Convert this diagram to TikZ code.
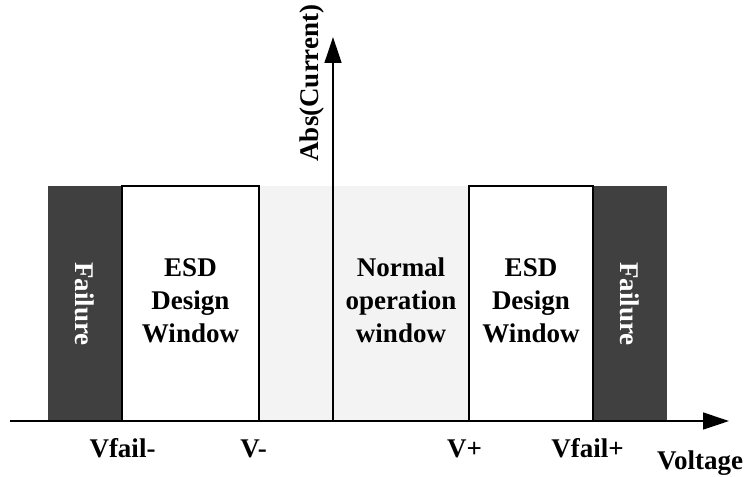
\documentclass[tikz,border=0pt]{standalone}
\usepackage{fontspec}
\setmainfont{Liberation Serif}
\usetikzlibrary{arrows.meta}
\definecolor{darkfail}{HTML}{404040}
\definecolor{lightop}{HTML}{F3F3F3}
\begin{document}
\begin{tikzpicture}[x=1pt,y=-1pt,
  lbl/.style={font=\fontsize{27}{33}\selectfont\bfseries, inner sep=0pt, align=center},
  failbox/.style={fill=darkfail, draw=none, inner sep=0pt, outer sep=0pt},
  esdbox/.style={fill=white, draw=black, line width=1.2pt, inner sep=0pt, outer sep=0pt},
  opbox/.style={fill=lightop, draw=none, inner sep=0pt, outer sep=0pt},
  axis/.style={line width=1.3pt, -{Triangle[length=26pt,width=17pt]}}]
\useasboundingbox (0,0) rectangle (746,476);
% regions
\node[opbox, minimum width=210pt, minimum height=235pt] (op) at (364,303.5) {};
\node[failbox, minimum width=74pt, minimum height=235pt] (failL) at (85,303.5) {};
\node[failbox, minimum width=74pt, minimum height=235pt] (failR) at (630,303.5) {};
\node[esdbox, minimum width=137pt, minimum height=235pt] (esdL) at (190.5,303.5) {};
\node[esdbox, minimum width=124pt, minimum height=235pt] (esdR) at (531,303.5) {};
% axes
\coordinate (xs) at (10,421);
\coordinate (xe) at (729,421);
\coordinate (ys) at (333,421);
\coordinate (ye) at (333,37);
\draw[axis] (xs) -- (xe);
\draw[axis] (ys) -- (ye);
% texts
\node[lbl, text=white, rotate=-90] (tfailL) at (85,304) {Failure};
\node[lbl, text=white, rotate=-90] (tfailR) at (630,304) {Failure};
\node[lbl] (tesdL) at (190.5,300.5) {ESD\\Design\\Window};
\node[lbl] (tesdR) at (531,300.5) {ESD\\Design\\Window};
\node[lbl] (top) at (401,300.5) {Normal\\operation\\window};
\node[lbl, rotate=90, anchor=base] (tcur) at (318,83) {Abs(Current)};
\node[lbl, anchor=base] (vfm) at (122.5,457) {Vfail-};
\node[lbl, anchor=base] (vm) at (253.5,457) {V-};
\node[lbl, anchor=base] (vp) at (464.5,457) {V+};
\node[lbl, anchor=base] (vfp) at (587.5,457) {Vfail+};
\node[lbl, anchor=base] (volt) at (700,469) {Voltage};
\end{tikzpicture}
\end{document}
